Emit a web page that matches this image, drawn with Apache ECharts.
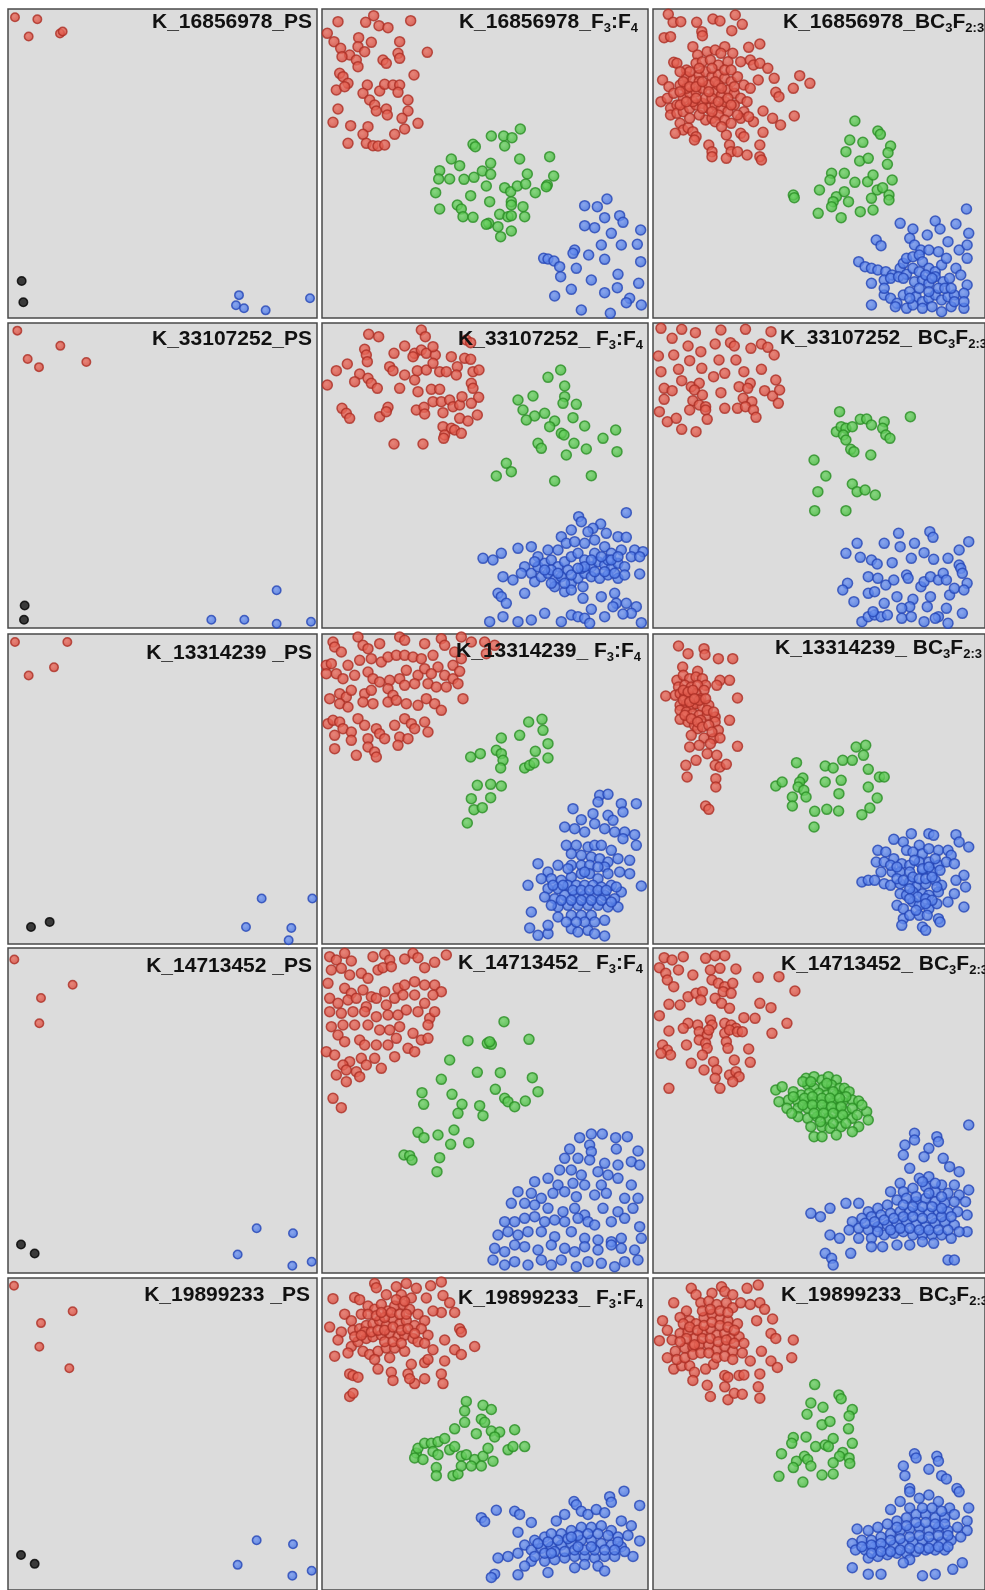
<!DOCTYPE html>
<html>
<head>
<meta charset="utf-8">
<script src="https://cdn.jsdelivr.net/npm/echarts@6/dist/echarts.min.js"></script>
<style>
html,body{margin:0;padding:0;background:#ffffff;}
#chart{width:985px;height:1590px;}
</style>
</head>
<body>
<div id="chart"></div>
<script>
// ---------- Column 1 : PS panels (values read in the PS reading frame) ----------
const ps1_red   = [[45,17],[112,19],[86,36],[180,33],[188,31]];
const ps1_black = [[65,277],[70,298]];
const ps1_blue  = [[717,291],[708,301],[732,304],[797,306],[930,294]];
const ps2_red   = [[52,326],[83,354],[117,362],[181,341],[259,357]];
const ps2_black = [[74,597],[72,611]];
const ps2_blue  = [[634,611],[733,611],[830,582],[830,615],[933,613]];
const ps3_red   = [[45,633],[202,633],[86,666],[162,658]];
const ps3_black = [[93,914],[149,909]];
const ps3_blue  = [[785,886],[937,886],[738,914],[874,915],[866,927]];
const ps4_red   = [[43,946],[218,971],[123,984],[118,1009]];
const ps4_black = [[63,1227],[104,1236]];
const ps4_blue  = [[770,1211],[713,1237],[879,1216],[877,1248],[935,1244]];
const ps5_red   = [[42,1268],[218,1294],[123,1306],[118,1330],[208,1352]];
const ps5_black = [[63,1542],[104,1551]];
const ps5_blue  = [[770,1527],[713,1552],[879,1531],[877,1563],[935,1558]];

// ---------- Row 1 ----------
const f1_red = [[60,50],[143,52],[167,32],[183,62],[210,68],[278,47],[28,85],[48,110],[68,130],[95,150],[72,155],[122,98],[120,125],[140,140],[160,112],[115,165],[120,185],[195,165],[205,175],[245,110],[240,145],[245,160],[328,142],[65,205],[75,215],[90,235],[55,255],[80,245],[148,240],[135,265],[185,258],[200,238],[225,240],[245,240],[240,262],[288,210],[60,312],[155,285],[170,300],[175,318],[205,312],[208,330],[270,285],[270,318],[252,340],[45,352],[98,362],[150,365],[135,388],[260,372],[300,355],[230,388],[90,415],[145,415],[165,422],[180,423],[200,420]];
const f1_green = [[465,418],[472,425],[520,393],[557,393],[582,398],[607,372],[560,423],[400,462],[425,482],[518,475],[605,462],[695,455],[365,497],[362,522],[395,522],[438,523],[468,517],[493,498],[518,508],[628,507],[707,513],[688,540],[685,545],[505,543],[560,548],[578,560],[598,543],[623,537],[652,563],[353,563],[458,572],[515,590],[580,590],[580,600],[365,612],[418,600],[430,612],[435,635],[465,637],[545,628],[570,635],[580,632],[615,605],[620,635],[512,655],[505,658],[540,665],[580,678],[548,695]];
const f1_blue = [[800,602],[838,605],[867,582],[860,638],[905,632],[915,652],[800,662],[830,668],[880,685],[968,675],[677,760],[690,762],[708,768],[725,785],[770,735],[765,745],[812,750],[850,720],[860,763],[910,720],[958,718],[968,770],[775,790],[728,815],[820,825],[900,808],[962,835],[898,848],[860,863],[760,853],[710,873],[935,880],[925,893],[970,900],[790,915],[877,925]];
const b1_red = [[63,28],[78,52],[102,50],[152,52],[168,80],[170,92],[203,42],[225,48],[262,77],[273,30],[295,58],[50,98],[70,95],[350,117],[315,127],[140,125],[155,150],[185,140],[210,135],[240,125],[228,145],[265,145],[290,170],[320,165],[330,180],[350,175],[375,190],[80,172],[90,175],[120,195],[150,175],[170,170],[195,165],[220,180],[250,170],[45,225],[65,245],[40,290],[60,280],[80,265],[100,240],[120,215],[140,225],[160,210],[180,200],[200,215],[220,210],[240,220],[260,230],[280,215],[300,240],[320,250],[345,225],[395,220],[455,250],[475,212],[507,235],[70,310],[90,300],[110,280],[130,265],[150,260],[170,250],[190,240],[210,260],[230,270],[250,255],[270,265],[290,280],[310,290],[400,262],[410,275],[70,330],[90,325],[110,320],[130,310],[150,300],[170,295],[190,310],[210,300],[230,310],[250,320],[270,300],[300,320],[330,350],[360,318],[390,340],[415,360],[458,333],[100,355],[110,375],[125,368],[140,380],[150,395],[180,345],[200,340],[220,330],[240,345],[260,355],[290,340],[315,335],[85,385],[145,405],[190,420],[200,440],[200,455],[245,390],[255,420],[260,440],[245,460],[290,385],[300,395],[280,440],[310,450],[350,420],[360,382],[350,455],[355,465],[160,230],[180,280],[200,280],[220,240],[120,250],[140,290],[160,330],[240,290],[100,300],[130,340],[110,230],[130,245],[150,245],[170,230],[190,260],[210,230],[230,250],[250,280],[270,245],[100,260],[120,290],[150,280],[170,310],[200,320],[220,290],[260,300],[280,330],[210,350],[230,365],[160,190],[130,200],[100,200],[200,190],[240,195],[260,195]];
const b1_green = [[648,348],[720,378],[728,388],[632,405],[673,412],[620,440],[760,423],[752,443],[663,468],[690,460],[750,478],[575,505],[570,525],[615,505],[648,532],[688,530],[705,510],[765,525],[718,555],[735,548],[755,570],[755,585],[455,570],[458,578],[537,555],[590,575],[580,590],[575,605],[615,560],[628,590],[700,580],[533,625],[605,638],[665,620],[705,615]];
const b1_blue = [[998,612],[790,655],[900,648],[965,657],[915,672],[830,672],[875,690],[820,700],[1005,685],[715,705],[730,722],[835,720],[855,735],[880,735],[910,740],[940,710],[975,735],[1000,720],[660,770],[680,785],[700,790],[720,795],[745,800],[765,810],[790,790],[800,775],[810,760],[830,755],[850,750],[860,770],[880,790],[900,800],[920,780],[935,760],[965,790],[1000,760],[980,810],[700,835],[740,825],[760,820],[785,815],[810,808],[835,830],[860,825],[880,835],[900,815],[925,830],[945,820],[1000,840],[700,900],[740,870],[760,880],[780,895],[800,870],[820,860],[840,875],[860,890],[880,880],[900,870],[920,885],[940,875],[960,870],[990,865],[810,910],[830,900],[860,910],[890,905],[920,920],[950,905],[990,910],[775,905],[800,820],[830,790],[850,800],[870,810],[890,820],[910,850],[930,850],[950,850],[850,850],[820,880],[880,860],[960,890],[990,890],[740,850]];

// ---------- Row 2 ----------
const f2_red = [[152,43],[182,50],[310,30],[322,50],[445,60],[458,68],[140,88],[145,105],[148,125],[228,100],[260,78],[290,100],[285,110],[310,90],[325,100],[352,105],[345,80],[400,110],[418,140],[440,115],[458,118],[55,152],[88,132],[125,162],[110,185],[150,175],[160,190],[178,205],[215,140],[225,152],[260,165],[290,180],[298,152],[325,150],[345,130],[365,155],[385,155],[415,165],[465,155],[483,150],[28,195],[245,205],[300,215],[340,208],[365,208],[460,190],[465,205],[72,265],[85,280],[95,295],[185,290],[210,262],[205,275],[295,270],[318,262],[320,282],[345,245],[370,245],[395,240],[405,260],[375,278],[425,255],[432,230],[482,232],[478,285],[460,250],[425,295],[450,303],[375,320],[400,325],[410,330],[380,345],[430,340],[377,355],[228,372],[315,372]];
const f2_green = [[728,150],[690,172],[740,198],[600,240],[645,228],[740,230],[735,250],[775,253],[615,270],[650,288],[680,280],[625,300],[710,303],[695,320],[765,293],[730,340],[738,345],[800,318],[855,355],[893,330],[660,370],[670,385],[768,370],[805,387],[745,405],[897,395],[565,430],[580,455],[535,468],[710,483],[820,467]];
const f2_blue = [[925,578],[782,590],[790,605],[848,612],[825,625],[810,635],[865,640],[760,630],[730,650],[900,650],[925,652],[950,690],[975,695],[495,715],[525,720],[550,700],[600,685],[640,680],[660,710],[690,690],[720,690],[745,670],[770,665],[800,670],[830,660],[860,680],[880,700],[910,690],[940,710],[965,710],[620,740],[640,760],[660,740],[680,730],[700,720],[720,740],[740,725],[760,710],[780,700],[800,720],[820,740],[840,725],[860,735],[880,745],[900,730],[920,740],[965,762],[555,770],[585,780],[610,760],[650,785],[670,770],[690,760],[710,780],[730,770],[760,790],[780,775],[800,760],[820,770],[845,775],[870,765],[900,775],[540,820],[550,830],[565,850],[620,820],[710,800],[740,815],[760,810],[795,800],[795,835],[850,830],[890,820],[895,850],[925,850],[955,860],[940,880],[915,882],[515,905],[555,890],[600,905],[640,900],[680,880],[730,905],[760,885],[780,890],[800,895],[815,910],[860,890],[885,860],[970,908],[820,868],[700,750],[750,750],[790,745],[830,700],[870,720],[650,725],[680,750],[720,760],[760,765],[800,740],[830,755],[860,755],[890,760],[920,765],[700,790],[740,790],[780,745],[820,720],[850,710],[880,720],[900,710]];
const b2_red = [[40,25],[75,55],[105,28],[148,38],[228,30],[305,28],[385,35],[32,108],[80,105],[125,78],[165,95],[210,72],[258,68],[270,78],[322,85],[355,72],[375,82],[395,105],[40,155],[95,148],[130,122],[168,145],[205,170],[222,120],[240,160],[275,120],[300,155],[355,148],[400,180],[50,205],[75,212],[105,182],[135,200],[160,190],[145,210],[170,225],[228,218],[285,200],[320,190],[312,205],[365,212],[390,228],[412,210],[50,238],[140,242],[160,255],[180,260],[130,270],[180,270],[240,265],[280,265],[298,235],[325,245],[305,260],[330,270],[408,250],[35,275],[60,305],[88,295],[185,298],[338,292],[105,328],[150,335]];
const b2_green = [[600,275],[822,290],[665,298],[685,297],[700,315],[740,305],[735,325],[745,345],[758,355],[590,335],[605,320],[620,325],[640,320],[612,345],[620,360],[635,388],[645,395],[698,405],[520,420],[557,468],[640,492],[655,515],[680,510],[712,525],[532,515],[522,572],[620,572]];
const b2_blue = [[785,640],[883,635],[893,652],[655,670],[740,670],[790,680],[835,670],[1005,665],[620,700],[665,712],[700,720],[718,732],[765,728],[825,715],[865,698],[895,718],[940,715],[975,690],[975,735],[690,770],[720,775],[745,795],[770,780],[810,765],[815,775],[855,800],[865,785],[885,770],[910,780],[925,760],[935,780],[980,745],[985,760],[625,790],[610,810],[690,820],[710,815],[780,830],[830,838],[820,860],[885,830],[945,825],[960,805],[1000,790],[990,810],[645,845],[740,850],[795,865],[875,860],[935,865],[985,880],[910,890],[670,905],[690,890],[710,885],[730,890],[750,885],[795,895],[825,890],[865,905],[900,895],[940,910],[705,875]];

// ---------- Row 3 ----------
const f3_red = [[45,30],[50,45],[70,60],[120,15],[135,40],[150,50],[185,35],[245,15],[260,25],[320,35],[370,20],[380,40],[430,15],[460,30],[500,30],[530,40],[505,65],[25,100],[40,95],[55,125],[90,100],[125,85],[160,80],[190,90],[210,75],[235,70],[260,70],[285,75],[310,80],[345,70],[360,105],[405,100],[430,80],[410,60],[25,125],[75,140],[110,130],[150,120],[165,140],[185,150],[215,145],[245,140],[265,115],[300,130],[320,110],[340,125],[380,130],[405,140],[425,118],[420,155],[35,200],[65,185],[85,195],[100,175],[140,185],[160,175],[210,170],[225,190],[260,160],[290,155],[330,155],[355,165],[385,165],[435,200],[65,215],[90,225],[135,210],[165,215],[210,210],[235,205],[265,215],[300,220],[325,200],[350,215],[370,235],[30,275],[45,265],[65,270],[75,290],[100,300],[120,260],[140,280],[175,290],[185,305],[230,280],[260,260],[280,275],[290,290],[320,270],[330,300],[50,310],[100,325],[150,320],[200,320],[245,315],[270,320],[50,350],[115,370],[150,345],[170,360],[175,375],[240,340]];
const f3_green = [[632,270],[672,262],[675,295],[550,318],[605,310],[690,335],[458,375],[487,365],[535,355],[550,365],[555,385],[548,408],[652,358],[690,378],[620,408],[635,400],[648,393],[478,460],[518,457],[550,462],[460,500],[518,497],[468,533],[493,527],[448,573]];
const f3_blue = [[845,490],[870,487],[840,510],[910,515],[955,515],[765,530],[825,545],[870,550],[790,563],[830,575],[885,565],[915,540],[740,585],[770,590],[800,600],[860,590],[890,600],[920,600],[950,608],[745,640],[775,640],[810,645],[830,640],[850,640],[915,620],[955,640],[880,655],[760,665],[790,670],[820,675],[845,680],[870,690],[900,680],[935,685],[720,700],[760,700],[790,700],[815,700],[860,705],[660,695],[690,720],[630,760],[670,740],[700,740],[730,745],[760,735],[790,725],[815,725],[840,740],[870,725],[905,720],[935,725],[970,762],[690,770],[720,770],[750,760],[775,760],[800,760],[825,760],[850,765],[880,760],[910,780],[680,795],[710,800],[740,790],[770,790],[800,790],[830,790],[860,790],[890,800],[640,840],[720,825],[750,820],[780,820],[810,820],[840,820],[870,825],[900,825],[720,855],[760,850],[790,850],[820,850],[860,865],[635,888],[660,910],[690,905],[690,880],[760,890],[780,900],[810,895],[830,905],[860,912],[800,870],[705,760],[735,760],[765,775],[790,775],[815,775],[840,775],[865,775],[895,765],[700,820],[730,805],[760,805],[790,805],[820,805],[850,805],[880,810],[745,870],[775,870],[830,870],[750,710],[840,705],[800,720]];
const b3_red = [[95,42],[125,65],[175,50],[178,68],[220,80],[265,80],[108,105],[155,118],[225,145],[255,145],[90,145],[110,130],[130,140],[150,135],[170,140],[180,160],[95,165],[115,160],[135,165],[155,160],[175,175],[215,160],[55,192],[85,190],[100,185],[115,195],[130,190],[150,185],[165,200],[280,198],[100,220],[120,215],[135,225],[150,215],[170,225],[190,220],[100,235],[120,240],[140,245],[160,250],[185,250],[210,255],[255,265],[100,262],[125,270],[145,280],[165,265],[210,270],[155,290],[220,295],[135,310],[175,318],[205,320],[225,318],[130,345],[160,340],[195,335],[280,343],[185,365],[215,370],[150,385],[118,400],[210,400],[225,405],[245,397],[122,435],[212,440],[212,465],[180,522],[190,532],[110,175],[125,180],[140,175],[160,205],[180,200],[110,205],[130,210],[145,200],[115,250],[135,260],[155,270],[170,285],[190,280],[200,300],[185,235],[205,240]];
const b3_green = [[652,345],[682,340],[675,370],[610,385],[640,385],[465,392],[555,402],[580,408],[690,412],[725,435],[740,435],[485,438],[475,450],[470,465],[488,475],[495,495],[400,462],[420,450],[555,450],[605,445],[598,485],[690,465],[718,498],[452,495],[452,522],[522,538],[560,532],[597,537],[670,548],[695,528],[520,585]];
const b3_blue = [[880,605],[825,605],[770,622],[800,630],[895,610],[965,608],[975,630],[1005,645],[850,640],[720,655],[745,660],[770,680],[810,655],[830,660],[860,665],[880,650],[910,655],[940,655],[950,670],[715,690],[740,690],[795,695],[820,700],[850,690],[880,690],[910,700],[935,690],[960,695],[670,750],[690,745],[710,745],[730,720],[765,720],[790,720],[820,720],[860,715],[890,720],[915,715],[990,730],[740,755],[760,760],[790,755],[820,750],[840,765],[870,755],[900,745],[920,760],[965,745],[995,765],[790,785],[810,790],[830,780],[860,785],[880,790],[910,780],[960,785],[780,820],[800,830],[830,810],[850,820],[880,830],[905,815],[940,810],[990,825],[800,860],[820,850],[850,850],[875,850],[910,860],[795,880],[860,885],[870,895],[915,870],[780,740],[800,745],[830,735],[850,740],[870,740],[890,735],[905,765],[820,770],[845,795],[870,800],[890,805],[820,800],[840,835],[870,815],[860,710],[880,705],[900,680],[835,685],[760,700],[780,705]];

// ---------- Row 4 ----------
const f4_red = [[35,35],[55,45],[80,25],[100,48],[165,35],[200,28],[215,45],[260,42],[285,25],[300,38],[385,30],[40,75],[70,70],[95,90],[130,85],[150,100],[180,75],[195,68],[220,65],[320,68],[350,52],[30,115],[80,130],[100,145],[135,135],[160,155],[200,140],[240,130],[260,120],[290,110],[320,120],[350,120],[370,140],[35,160],[60,175],[90,165],[115,160],[145,185],[175,160],[205,180],[230,160],[255,150],[290,150],[320,175],[345,150],[35,200],[70,205],[105,200],[140,200],[175,215],[210,210],[240,210],[265,195],[300,200],[335,220],[350,200],[40,245],[75,240],[110,240],[150,240],[185,255],[215,255],[245,245],[285,265],[330,240],[310,285],[25,320],[60,270],[80,290],[125,285],[140,300],[175,300],[210,300],[235,280],[270,310],[290,320],[330,280],[50,330],[95,350],[130,340],[170,340],[230,335],[75,360],[85,375],[115,380],[125,395],[145,360],[190,370],[55,390],[85,410],[45,460],[70,488]];
const f4_green = [[558,230],[450,287],[508,295],[520,298],[515,290],[633,283],[395,345],[478,382],[547,383],[370,403],[643,398],[312,443],[317,478],[402,448],[432,478],[420,505],[485,482],[495,512],[532,433],[560,460],[570,470],[590,485],[622,468],[660,440],[300,562],[318,578],[360,570],[408,555],[398,598],[452,593],[258,630],[275,632],[282,645],[365,638],[357,680]];
const f4_blue = [[785,578],[820,567],[853,567],[893,578],[928,575],[755,612],[815,600],[820,620],[895,612],[960,618],[740,640],[780,640],[815,645],[860,655],[900,660],[940,650],[965,660],[725,675],[760,675],[790,690],[840,680],[870,690],[690,700],[720,720],[765,715],[800,720],[850,720],[900,700],[940,720],[650,710],[600,740],[640,745],[670,760],[705,745],[740,740],[775,755],[830,750],[865,745],[920,760],[960,760],[580,775],[620,775],[650,780],[690,790],[735,800],[770,790],[800,810],[855,790],[900,800],[945,790],[560,830],[590,830],[620,820],[650,815],[680,830],[710,825],[740,830],[780,820],[810,830],[830,840],[880,830],[920,820],[965,845],[540,870],[570,860],[600,870],[630,860],[670,860],[710,875],[760,860],[800,880],[840,885],[880,890],[910,880],[970,880],[530,910],[560,920],[590,900],[620,905],[660,915],[700,900],[740,910],[770,920],[800,905],[840,915],[880,900],[910,910],[950,915],[525,945],[560,960],[590,950],[630,960],[670,945],[700,960],[730,945],[775,965],[810,950],[850,955],[890,965],[920,950],[960,945]];
const b4_red = [[50,38],[75,45],[110,35],[180,40],[210,32],[240,32],[35,68],[55,85],[95,75],[140,90],[195,75],[225,70],[275,72],[345,97],[410,95],[60,105],[80,125],[125,155],[150,145],[170,140],[200,105],[220,115],[240,125],[265,115],[235,140],[260,145],[210,160],[460,138],[65,178],[100,180],[165,165],[230,175],[255,190],[350,175],[385,188],[35,212],[125,235],[155,240],[195,225],[200,240],[240,235],[260,240],[275,250],[300,218],[335,220],[435,235],[65,258],[110,250],[160,260],[185,270],[190,255],[240,265],[255,255],[280,260],[295,260],[388,265],[45,300],[60,315],[70,330],[120,300],[160,285],[180,295],[185,310],[245,290],[250,310],[315,312],[40,325],[135,355],[170,330],[175,375],[205,350],[215,375],[210,400],[225,430],[255,390],[275,380],[270,345],[285,395],[265,410],[320,352],[65,430]];
const b4_green = [[495,400],[520,395],[545,405],[565,395],[590,405],[500,420],[520,430],[550,425],[575,420],[600,430],[615,430],[400,435],[420,425],[455,440],[480,450],[505,445],[535,445],[560,450],[590,450],[630,440],[410,470],[440,465],[470,470],[500,470],[525,470],[555,470],[580,475],[610,470],[640,465],[660,468],[435,490],[470,490],[500,490],[530,495],[560,495],[590,490],[620,500],[685,500],[470,515],[500,520],[530,515],[565,520],[600,520],[640,520],[690,525],[510,545],[545,545],[570,550],[605,545],[660,545],[520,575],[545,575],[590,570],[640,560],[485,410],[510,410],[560,415],[580,440],[620,455],[455,455],[490,460],[515,455],[545,460],[570,460],[600,460],[485,480],[515,480],[545,480],[575,485],[605,485],[640,490],[655,510],[450,505],[520,505],[550,505],[580,505],[610,510],[540,530],[580,535],[620,535],[670,480]];
const b4_blue = [[1005,540],[835,565],[905,575],[835,585],[910,590],[805,600],[880,610],[800,630],[865,635],[925,640],[945,665],[975,680],[820,670],[790,715],[850,700],[880,695],[920,720],[960,720],[1005,735],[760,740],[800,740],[830,730],[870,725],[900,740],[940,745],[975,750],[510,805],[540,815],[570,790],[620,775],[660,775],[690,800],[720,790],[750,780],[780,765],[810,760],[840,770],[870,760],[900,770],[930,775],[960,770],[995,770],[640,830],[670,820],[700,815],[730,810],[760,805],[790,800],[820,800],[850,800],[880,805],[910,800],[940,800],[970,800],[1000,810],[630,855],[660,850],[690,855],[720,845],[750,840],[780,835],[810,830],[840,840],[870,845],[900,835],[930,830],[960,840],[1000,860],[570,870],[600,880],[660,880],[700,880],[740,870],[770,865],[800,860],[830,870],[860,870],[890,870],[920,870],[950,880],[975,860],[555,925],[575,940],[580,960],[635,925],[700,905],[735,905],[780,900],[820,900],[860,890],[895,895],[940,945],[960,945],[680,835],[710,830],[740,825],[770,820],[800,815],[830,815],[860,820],[890,820],[920,815],[950,815],[720,860],[760,855],[790,850],[820,850],[850,855],[880,855],[910,855],[940,855],[800,780],[830,785],[860,785],[890,785],[920,790],[840,755],[880,745],[920,755],[860,710],[900,715]];

// ---------- Row 5 ----------
const f5_red = [[170,35],[175,48],[235,45],[265,35],[295,50],[338,42],[370,30],[45,82],[110,78],[125,85],[205,70],[250,70],[280,80],[325,80],[375,72],[395,95],[410,125],[370,125],[80,130],[100,150],[130,130],[150,105],[170,115],[190,100],[210,120],[230,105],[255,100],[275,115],[300,130],[320,150],[345,120],[35,170],[70,185],[105,180],[125,175],[145,165],[165,160],[185,150],[205,165],[225,145],[245,160],[265,150],[290,165],[310,175],[330,195],[425,175],[430,185],[60,210],[100,230],[120,215],[145,205],[165,200],[190,195],[215,190],[240,200],[260,195],[285,205],[300,215],[320,220],[345,240],[380,210],[410,240],[430,255],[470,230],[50,260],[90,250],[135,245],[155,255],[180,245],[205,235],[230,235],[260,245],[170,270],[215,265],[280,285],[320,280],[330,270],[380,275],[95,315],[105,320],[120,325],[180,300],[220,310],[225,335],[270,315],[290,345],[320,330],[370,315],[375,345],[95,385],[105,375],[275,330],[150,130],[175,135],[200,140],[220,125],[245,130],[265,130],[140,185],[160,185],[180,180],[200,180],[225,170],[250,180],[270,175],[290,190],[110,200],[130,195],[200,215],[225,215],[250,220],[190,125],[235,85],[260,90]];
const f5_green = [[445,400],[440,430],[495,412],[520,425],[440,465],[490,455],[500,465],[410,485],[475,500],[520,492],[545,495],[590,488],[620,540],[295,560],[300,545],[320,530],[340,530],[360,525],[380,515],[345,555],[360,565],[395,550],[410,540],[430,570],[445,565],[470,580],[495,570],[510,545],[530,510],[525,585],[290,575],[315,580],[355,605],[355,630],[405,630],[420,625],[430,600],[460,600],[490,600],[570,550],[585,540]];
const f5_blue = [[918,678],[875,695],[880,712],[965,722],[768,710],[775,720],[535,737],[490,760],[500,772],[590,740],[605,750],[640,775],[715,770],[740,750],[790,740],[810,750],[835,735],[860,745],[910,770],[940,785],[600,805],[620,845],[650,830],[680,820],[700,810],[730,810],[760,800],[790,790],[820,790],[850,785],[880,800],[900,820],[930,815],[965,832],[540,885],[570,880],[600,870],[640,860],[670,855],[700,850],[730,845],[760,840],[790,830],[820,830],[850,840],[880,845],[910,850],[945,880],[530,935],[520,945],[600,937],[640,895],[680,895],[710,890],[740,885],[770,880],[800,880],[830,885],[860,880],[890,880],[620,910],[690,930],[770,915],[800,905],[840,910],[860,925],[660,840],[690,835],[720,830],[750,825],[780,815],[810,810],[840,810],[870,815],[900,835],[680,870],[710,865],[740,865],[770,860],[800,860],[830,860],[860,860],[890,860],[920,865],[650,880],[700,870],[760,820],[820,850],[780,850]];
const b5_red = [[135,50],[150,70],[200,65],[230,45],[240,60],[265,70],[310,50],[345,40],[80,95],[120,120],[165,95],[190,90],[215,100],[245,95],[265,110],[290,95],[320,100],[350,95],[365,115],[390,145],[45,150],[100,140],[130,150],[150,160],[175,140],[200,130],[225,145],[250,150],[280,160],[340,150],[385,190],[400,205],[455,210],[60,180],[35,212],[75,210],[100,190],[125,185],[145,205],[170,185],[195,175],[215,195],[240,190],[260,205],[285,200],[300,220],[60,265],[85,245],[115,235],[140,230],[160,225],[190,225],[215,240],[240,230],[265,245],[295,250],[320,275],[355,245],[385,275],[405,295],[450,265],[80,300],[105,290],[130,290],[145,310],[140,335],[180,300],[205,285],[240,320],[250,325],[285,320],[300,318],[350,315],[185,350],[195,385],[240,355],[250,395],[270,375],[295,378],[345,355],[350,390],[110,160],[130,170],[155,180],[175,165],[200,155],[225,165],[250,170],[270,180],[120,205],[145,225],[170,205],[195,205],[220,215],[245,210],[270,220],[100,215],[90,270],[115,265],[140,255],[165,250],[190,250],[215,265],[240,260],[265,270],[170,120],[195,115],[225,120],[250,125]];
const b5_green = [[522,348],[598,380],[605,392],[510,405],[548,418],[640,425],[630,445],[498,440],[545,472],[570,462],[628,485],[455,512],[450,530],[495,510],[525,540],[555,535],[580,515],[565,540],[610,558],[640,530],[600,570],[630,575],[632,592],[418,562],[465,585],[490,570],[500,580],[510,600],[455,605],[580,590],[545,628],[580,625],[410,632],[485,650]];
const b5_blue = [[835,562],[840,575],[905,570],[910,585],[800,600],[880,610],[920,630],[935,640],[805,630],[820,670],[820,680],[968,670],[975,680],[790,710],[850,700],[880,690],[910,710],[945,730],[1005,730],[760,735],[820,730],[655,795],[690,800],[720,790],[750,780],[780,770],[810,760],[840,750],[870,750],[900,760],[930,760],[960,750],[1000,770],[640,840],[670,830],[700,830],[730,820],[760,810],[790,800],[820,795],[850,790],[880,800],[910,790],[940,800],[970,790],[1000,800],[650,860],[680,860],[710,850],[740,850],[770,845],[800,840],[830,835],[860,830],[890,840],[920,835],[950,830],[980,820],[690,885],[720,880],[750,875],[780,870],[810,870],[840,865],[870,860],[900,860],[930,860],[640,915],[690,935],[730,935],[860,940],[900,935],[955,920],[985,900],[820,890],[800,900],[670,850],[700,845],[730,840],[760,830],[790,825],[820,820],[850,815],[880,820],[910,815],[940,815],[700,870],[730,865],[760,865],[790,860],[820,855],[850,855],[880,855],[910,850],[940,850],[780,790],[810,785],[840,775],[870,775],[900,780],[930,780],[860,730],[890,730],[920,740]];

// ---------- Titles ----------
const psTitles  = ['K_16856978_PS','K_33107252_PS','K_13314239 _PS','K_14713452 _PS','K_19899233 _PS'];
const f34Lead   = ['K_16856978_F','K_33107252_ F','K_13314239_ F','K_14713452_ F','K_19899233_ F'];
const bcLead    = ['K_16856978_BC','K_33107252_ BC','K_13314239_ BC','K_14713452_ BC','K_19899233_ BC'];

// ---------- Layout ----------
const COLS = [{L:8,R:317},{L:322,R:648},{L:653,R:1000}];
const ROWS = [{T:9,B:318},{T:323,B:628},{T:634,B:944},{T:948,B:1273},{T:1278,B:1600}];
// reading frames (origin and magnification of the view each panel was read in)
const FRAME_X = [0,318,648];
const FRAME_Y = [5,320,632,945,1272];
const titleBase = [[31,31.5,31.5],[348,348,347],[662,660,657],[975,972,973],[1304,1307,1304]];
const col1Right = [312,312,312,312,310];
const col2Right = [638,643,641,643,643];
const col3Left  = [783,780,775,781,781];

const SETS = [
  [{red:ps1_red,black:ps1_black,blue:ps1_blue},{red:f1_red,green:f1_green,blue:f1_blue},{red:b1_red,green:b1_green,blue:b1_blue}],
  [{red:ps2_red,black:ps2_black,blue:ps2_blue},{red:f2_red,green:f2_green,blue:f2_blue},{red:b2_red,green:b2_green,blue:b2_blue}],
  [{red:ps3_red,black:ps3_black,blue:ps3_blue},{red:f3_red,green:f3_green,blue:f3_blue},{red:b3_red,green:b3_green,blue:b3_blue}],
  [{red:ps4_red,black:ps4_black,blue:ps4_blue},{red:f4_red,green:f4_green,blue:f4_blue},{red:b4_red,green:b4_green,blue:b4_blue}],
  [{red:ps5_red,black:ps5_black,blue:ps5_blue},{red:f5_red,green:f5_green,blue:f5_blue},{red:b5_red,green:b5_green,blue:b5_blue}]
];

function grad(c0, c1){
  return {type:'radial', x:0.42, y:0.4, r:0.6, colorStops:[{offset:0,color:c0},{offset:1,color:c1}]};
}
const STYLE = {
  red:   {color: grad('#ea6f60','#d6473a'), borderColor:'#ad2f26'},
  green: {color: grad('#72d46a','#42b939'), borderColor:'#2b8e25'},
  blue:  {color: grad('#7598f2','#4170e0'), borderColor:'#2546b6'},
  black: {color: '#111111', borderColor:'#000000'}
};

const grids=[], xAxes=[], yAxes=[], series=[], titles=[];
const W = 985;
const FONT = '"Liberation Sans", Arial, Helvetica, sans-serif';
const rich = {
  b: {fontFamily:FONT, fontSize:21, fontWeight:'bold', color:'#111', lineHeight:24, verticalAlign:'top'},
  s: {fontFamily:FONT, fontSize:13, fontWeight:'bold', color:'#111', lineHeight:13, padding:[10,0,0,0], verticalAlign:'top'}
};

let idx = 0;
for (let r=0; r<5; r++){
  for (let c=0; c<3; c++){
    const col = COLS[c], row = ROWS[r];
    let sx, sy, ox, oy;
    if (c===0){ sx=3; sy=0.986; ox=0; oy=0; }
    else { sx=3; sy=3; ox=FRAME_X[c]; oy=FRAME_Y[r]; }
    grids.push({left:col.L, top:row.T, width:col.R-col.L, height:row.B-row.T, show:true,
      backgroundColor:'#dcdcdc', borderColor:'#4a4a4a', borderWidth:1.5, containLabel:false});
    xAxes.push({type:'value', gridIndex:idx, min:(col.L-ox)*sx, max:(col.R-ox)*sx, show:false});
    yAxes.push({type:'value', gridIndex:idx, min:(row.T-oy)*sy, max:(row.B-oy)*sy, inverse:true, show:false});
    const set = SETS[r][c];
    ['red','green','blue','black'].forEach(k=>{
      if (!set[k]) return;
      series.push({type:'scatter', xAxisIndex:idx, yAxisIndex:idx, data:set[k],
        symbol:'circle', symbolSize: c===0 ? 8.5 : 10, silent:true, animation:false,
        itemStyle:{color:STYLE[k].color, borderColor:STYLE[k].borderColor, borderWidth:1.5}});
    });
    const top = titleBase[r][c] - 19.3;
    let text;
    if (c===0) text = '{b|' + psTitles[r] + '}';
    else if (c===1) text = '{b|' + f34Lead[r] + '}{s|3}{b|:F}{s|4}';
    else text = '{b|' + bcLead[r] + '}{s|3}{b|F}{s|2:3}';
    const t = {text:text, top:top, padding:0, textStyle:{rich:rich, fontSize:21}, z:10};
    if (c===0) t.right = W - col1Right[r];
    else if (c===1) t.right = W - col2Right[r];
    else t.left = col3Left[r];
    titles.push(t);
    idx++;
  }
}

const chart = echarts.init(document.getElementById('chart'), null, {renderer:'canvas', width:985, height:1590});
chart.setOption({
  animation:false,
  backgroundColor:'#ffffff',
  title: titles,
  grid: grids,
  xAxis: xAxes,
  yAxis: yAxes,
  series: series
});
</script>
</body>
</html>
